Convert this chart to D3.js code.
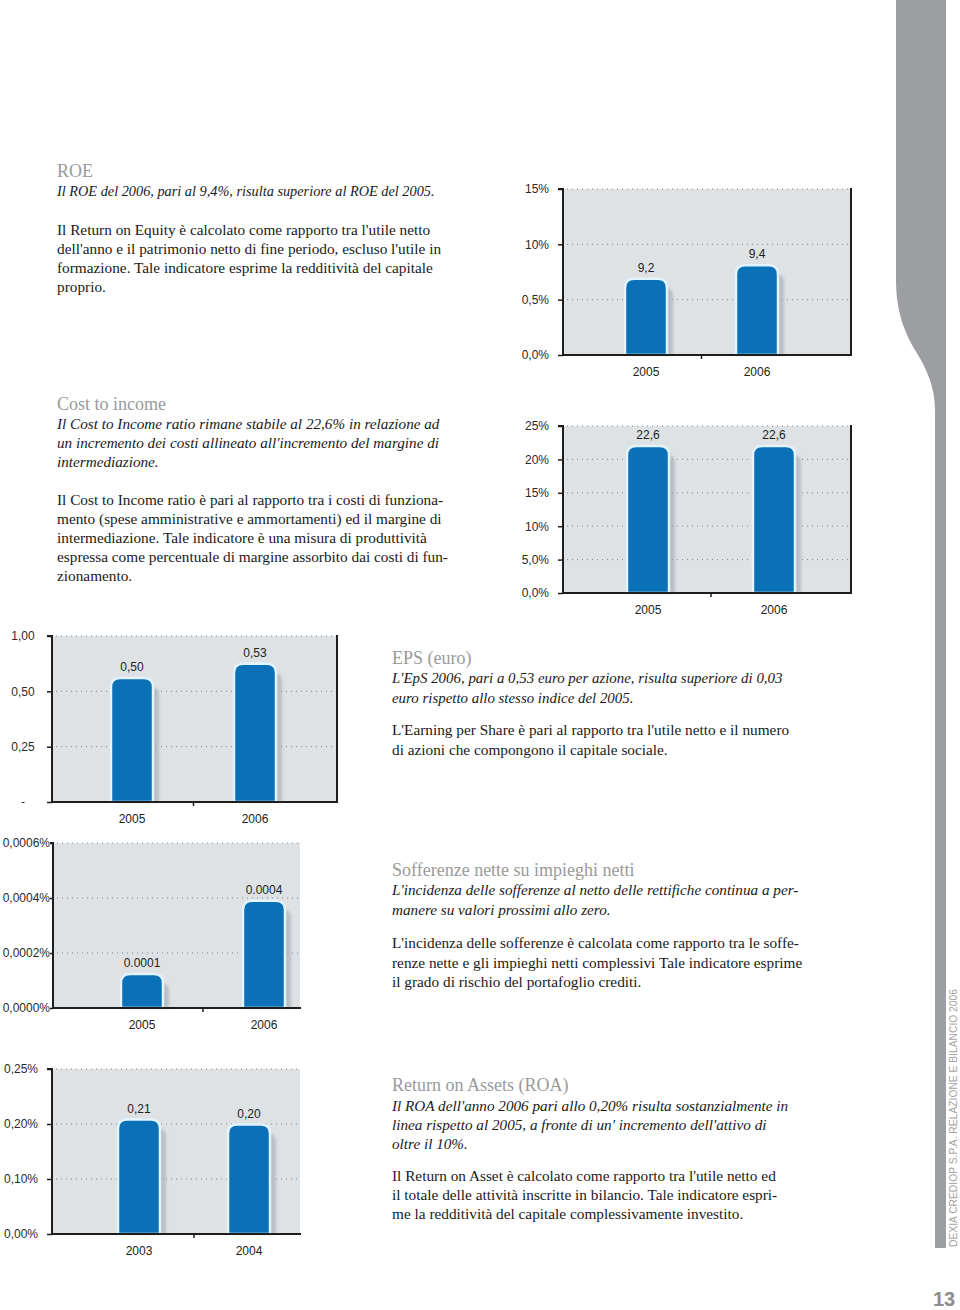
<!DOCTYPE html>
<html><head><meta charset="utf-8">
<script src="https://cdn.jsdelivr.net/npm/d3@7"></script>
<style>
html,body{margin:0;padding:0;background:#fff;}
svg{display:block;}
</style></head>
<body>
<svg id="page" width="960" height="1310"></svg>
<script>
// ---------------- DATA ----------------
// ROE
const roeYears = ["2005", "2006"];
const roeValues = [9.2, 9.4];            // printed values
const roeBarLevels = [6.9, 8.1];         // bar tops as read on the drawn axis
const roeTicks = [0, 5, 10, 15];
const roeTickLabels = ["0,0%", "0,5%", "10%", "15%"];

// Cost to income
const ctiYears = ["2005", "2006"];
const ctiValues = [22.6, 22.6];
const ctiBarLevels = [22.0, 22.0];
const ctiTicks = [0, 5, 10, 15, 20, 25];
const ctiTickLabels = ["0,0%", "5,0%", "10%", "15%", "20%", "25%"];

// EPS (euro)
const epsYears = ["2005", "2006"];
const epsValues = [0.50, 0.53];
const epsBarLevels = [0.62, 0.75];
const epsTicks = [0, 0.25, 0.50, 1.00];
const epsTickLabels = ["-", "0,25", "0,50", "1,00"];

// Sofferenze nette su impieghi netti
const sofYears = ["2005", "2006"];
const sofValues = [0.0001, 0.0004];
const sofBarLevels = [0.000124, 0.00039];
const sofTicks = [0, 0.0002, 0.0004, 0.0006];
const sofTickLabels = ["0,0000%", "0,0002%", "0,0004%", "0,0006%"];

// ROA
const roaYears = ["2003", "2004"];
const roaValues = [0.21, 0.20];
const roaBarLevels = [0.204, 0.199];
const roaTicks = [0, 0.10, 0.20, 0.25];
const roaTickLabels = ["0,00%", "0,10%", "0,20%", "0,25%"];

// Text
const roeHeading = "ROE";
const roeItalic = ["Il ROE del 2006, pari al 9,4%, risulta superiore al ROE del 2005."];
const roeBody = [
  "Il Return on Equity  è calcolato come rapporto tra l'utile netto",
  "dell'anno e il patrimonio netto di fine periodo, escluso l'utile in",
  "formazione. Tale indicatore esprime la redditività del capitale",
  "proprio."];
const ctiHeading = "Cost to income";
const ctiItalic = [
  "Il Cost to Income ratio rimane stabile al 22,6% in relazione ad",
  "un incremento dei costi allineato all'incremento del margine di",
  "intermediazione."];
const ctiBody = [
  "Il Cost to Income ratio è pari al rapporto tra i costi di funziona-",
  "mento (spese amministrative e ammortamenti) ed il margine di",
  "intermediazione. Tale indicatore è una misura di produttività",
  "espressa come percentuale di margine assorbito dai costi di fun-",
  "zionamento."];
const epsHeading = "EPS (euro)";
const epsItalic = [
  "L'EpS 2006, pari a 0,53 euro per azione, risulta superiore di 0,03",
  "euro rispetto allo stesso indice del 2005."];
const epsBody = [
  "L'Earning per Share è pari al rapporto tra l'utile netto e il numero",
  "di azioni che compongono il capitale sociale."];
const sofHeading = "Sofferenze nette su impieghi netti";
const sofItalic = [
  "L'incidenza delle sofferenze al netto delle rettifiche continua a per-",
  "manere su valori prossimi allo zero."];
const sofBody = [
  "L'incidenza delle sofferenze è calcolata come rapporto tra le soffe-",
  "renze nette e gli impieghi netti complessivi Tale indicatore esprime",
  "il grado di rischio del portafoglio crediti."];
const roaHeading = "Return on Assets (ROA)";
const roaItalic = [
  "Il ROA dell'anno 2006 pari allo 0,20% risulta sostanzialmente in",
  "linea rispetto al 2005, a fronte di un' incremento dell'attivo di",
  "oltre il 10%."];
const roaBody = [
  "Il Return on Asset è calcolato come rapporto tra l'utile netto ed",
  "il totale delle attività inscritte in bilancio. Tale indicatore espri-",
  "me la redditività del capitale complessivamente investito."];

const sideLabel = "DEXIA CREDIOP S.P.A.  RELAZIONE E BILANCIO 2006";
const pageNumber = "13";

// ---------------- STYLE ----------------
const BAR = "#0b71b7", BAR_EDGE = "#e2f4ff", PLOT_BG = "#dee2e5",
      GRID = "#7f868d", AXIS = "#1e1e1e", SHADOW = "#a9b0b7";
const SANS = "'Liberation Sans', Arial, Helvetica, sans-serif";
const SERIF = "'Liberation Serif', 'Times New Roman', serif";

const svg = d3.select("#page");

const defs = svg.append("defs");
defs.append("filter").attr("id", "soft").attr("x", "-20%").attr("y", "-20%")
  .attr("width", "140%").attr("height", "140%")
  .append("feGaussianBlur").attr("stdDeviation", 1.6);

function fmtComma(dec) { return v => d3.format("." + dec + "f")(v).replace(".", ","); }

function roundTopPath(x, y, w, h, r) {
  r = Math.min(r, w / 2, h);
  return `M${x},${y + h} L${x},${y + r} Q${x},${y} ${x + r},${y} L${x + w - r},${y} Q${x + w},${y} ${x + w},${y + r} L${x + w},${y + h} Z`;
}

function drawChart(cfg) {
  const L = cfg.layout;
  const g = svg.append("g");
  const n = cfg.ticks.length;
  const y = d3.scaleLinear()
    .domain(cfg.ticks)
    .range(cfg.ticks.map((t, i) => L.yBottom - i * (L.yBottom - L.yTop) / (n - 1)));
  const x = d3.scalePoint().domain(cfg.years).range([L.c0, L.c1]);

  g.append("rect").attr("x", L.x0).attr("y", L.yTop)
    .attr("width", L.x1 - L.x0).attr("height", L.yBottom - L.yTop)
    .attr("fill", PLOT_BG);

  g.selectAll(".grid").data(cfg.ticks.slice(1)).join("line")
    .attr("x1", L.x0 + 4).attr("x2", L.x1 - 2)
    .attr("y1", d => y(d)).attr("y2", d => y(d))
    .attr("stroke", GRID).attr("stroke-width", 1)
    .attr("stroke-dasharray", "1,4");

  const yAxis = d3.axisLeft(y).tickValues(cfg.ticks)
    .tickFormat((d, i) => cfg.tickLabels[i]).tickSize(L.tickSize || 5).tickPadding(L.tickPad);
  const ya = g.append("g").attr("transform", `translate(${L.x0},0)`).call(yAxis);
  ya.select(".domain").attr("stroke", AXIS).attr("stroke-width", 2)
    .attr("d", `M-${L.tickSize || 5},${L.yTop}H0V${L.yBottom + 1}`);
  ya.selectAll(".tick line").attr("stroke", AXIS).attr("stroke-width", 1.5);
  ya.selectAll(".tick text").attr("font-family", SANS).attr("font-size", L.tickFont || 12)
    .attr("fill", "#2a2a2a");
  if (L.tickAnchor === "middle") {
    ya.selectAll(".tick text").attr("text-anchor", "middle").attr("x", L.tickMid - L.x0);
  }

  if (L.rightBorder) {
    g.append("line").attr("x1", L.x1).attr("x2", L.x1)
      .attr("y1", L.yTop - 1).attr("y2", L.yBottom + 1)
      .attr("stroke", AXIS).attr("stroke-width", 2);
  }

  const bw = L.barW;
  const data = cfg.years.map((yr, i) => ({ yr, v: cfg.values[i], lvl: cfg.levels[i] }));

  g.selectAll(".shadow").data(data).join("path")
    .attr("d", d => {
      const top = y(d.lvl) + 9;
      return roundTopPath(x(d.yr) - bw / 2 + 6, top, bw, L.yBottom - top, 8);
    })
    .attr("fill", SHADOW).attr("opacity", 0.7).attr("filter", "url(#soft)");

  g.selectAll(".bar").data(data).join("path")
    .attr("d", d => roundTopPath(x(d.yr) - bw / 2, y(d.lvl), bw, L.yBottom - y(d.lvl), 9))
    .attr("fill", BAR).attr("stroke", BAR_EDGE).attr("stroke-width", 2.5);

  g.append("line").attr("x1", L.x0 - 1).attr("x2", L.x1 + 1)
    .attr("y1", L.yBottom).attr("y2", L.yBottom)
    .attr("stroke", AXIS).attr("stroke-width", 2.2);
  const mid = (x(cfg.years[0]) + x(cfg.years[1])) / 2;
  g.append("line").attr("x1", mid).attr("x2", mid)
    .attr("y1", L.yBottom).attr("y2", L.yBottom + 4)
    .attr("stroke", AXIS).attr("stroke-width", 1.5);

  g.selectAll(".val").data(data).join("text")
    .attr("x", d => x(d.yr)).attr("y", d => y(d.lvl) - 7)
    .attr("text-anchor", "middle").attr("font-family", SANS).attr("font-size", 12)
    .attr("fill", "#222").text(d => cfg.fmt(d.v));

  g.selectAll(".yr").data(data).join("text")
    .attr("x", d => x(d.yr)).attr("y", L.yBottom + 21)
    .attr("text-anchor", "middle").attr("font-family", SANS).attr("font-size", 12)
    .attr("fill", "#222").text(d => d.yr);
}

drawChart({ years: roeYears, values: roeValues, levels: roeBarLevels, ticks: roeTicks,
  tickLabels: roeTickLabels, fmt: fmtComma(1),
  layout: { x0: 563, x1: 851, yTop: 189, yBottom: 355, c0: 646, c1: 757, barW: 42, tickPad: 9, rightBorder: true } });

drawChart({ years: ctiYears, values: ctiValues, levels: ctiBarLevels, ticks: ctiTicks,
  tickLabels: ctiTickLabels, fmt: fmtComma(1),
  layout: { x0: 563, x1: 851, yTop: 426, yBottom: 593, c0: 648, c1: 774, barW: 42, tickPad: 9, rightBorder: true } });

drawChart({ years: epsYears, values: epsValues, levels: epsBarLevels, ticks: epsTicks,
  tickLabels: epsTickLabels, fmt: fmtComma(2),
  layout: { x0: 52, x1: 337, yTop: 636, yBottom: 802, c0: 132, c1: 255, barW: 42, tickPad: 9,
            tickAnchor: "middle", tickMid: 23, rightBorder: true } });

drawChart({ years: sofYears, values: sofValues, levels: sofBarLevels, ticks: sofTicks,
  tickLabels: sofTickLabels, fmt: v => d3.format(".4f")(v),
  layout: { x0: 53, x1: 300, yTop: 843, yBottom: 1008, c0: 142, c1: 264, barW: 42,
            tickSize: 3, tickPad: 0, tickFont: 12, rightBorder: false } });

drawChart({ years: roaYears, values: roaValues, levels: roaBarLevels, ticks: roaTicks,
  tickLabels: roaTickLabels, fmt: fmtComma(2),
  layout: { x0: 52, x1: 300, yTop: 1069, yBottom: 1234, c0: 139, c1: 249, barW: 42, tickPad: 9, rightBorder: false } });

// ---------------- TEXT BLOCKS ----------------
function textBlock(heading, italic, body, L) {
  const g = svg.append("g").attr("transform", `translate(${L.x},0)`);
  g.append("text").attr("x", 0).attr("y", L.hy + 6)
    .attr("font-family", SERIF).attr("font-size", 18).attr("fill", "#9a9a9a")
    .text(heading);
  g.selectAll(".it").data(italic).join("text")
    .attr("x", 0).attr("y", (d, i) => L.iy + 5 + i * L.lh)
    .attr("font-family", SERIF).attr("font-style", "italic").attr("font-size", L.itSize || 14.9)
    .attr("fill", "#1a1a1a").text(d => d);
  g.selectAll(".bd").data(body).join("text")
    .attr("x", 0).attr("y", (d, i) => L.by + 5 + i * L.lh)
    .attr("font-family", SERIF).attr("font-size", 15.3)
    .attr("fill", "#1a1a1a").text(d => d);
}
textBlock(roeHeading, roeItalic, roeBody, { x: 57, hy: 171, iy: 191, by: 230, lh: 19.1, itSize: 14.3 });
textBlock(ctiHeading, ctiItalic, ctiBody, { x: 57, hy: 404, iy: 424, by: 500, lh: 19.1, itSize: 15.2 });
textBlock(epsHeading, epsItalic, epsBody, { x: 392, hy: 658, iy: 678, by: 730, lh: 19.5 });
textBlock(sofHeading, sofItalic, sofBody, { x: 392, hy: 870, iy: 890, by: 943, lh: 19.5, itSize: 15.2 });
textBlock(roaHeading, roaItalic, roaBody, { x: 392, hy: 1085, iy: 1106, by: 1176, lh: 19.2, itSize: 15.2 });

// ---------------- SIDE BAND ----------------
svg.append("path")
  .attr("d", "M896,0 H946 V1248 H935 V410 C935,385 925,366 915,350 C905,333 896,312 896,280 Z")
  .attr("fill", "#9c9ea1");
svg.append("text")
  .attr("transform", "translate(957,1247) rotate(-90)")
  .attr("font-family", SANS).attr("font-size", 10.5).attr("fill", "#a3a3a3")
  .attr("textLength", 258).attr("lengthAdjust", "spacingAndGlyphs")
  .text(sideLabel);
svg.append("text").attr("x", 944).attr("y", 1306).attr("text-anchor", "middle")
  .attr("font-family", SANS).attr("font-weight", "bold").attr("font-size", 20)
  .attr("fill", "#8c8c8c").text(pageNumber);
</script>
</body></html>
